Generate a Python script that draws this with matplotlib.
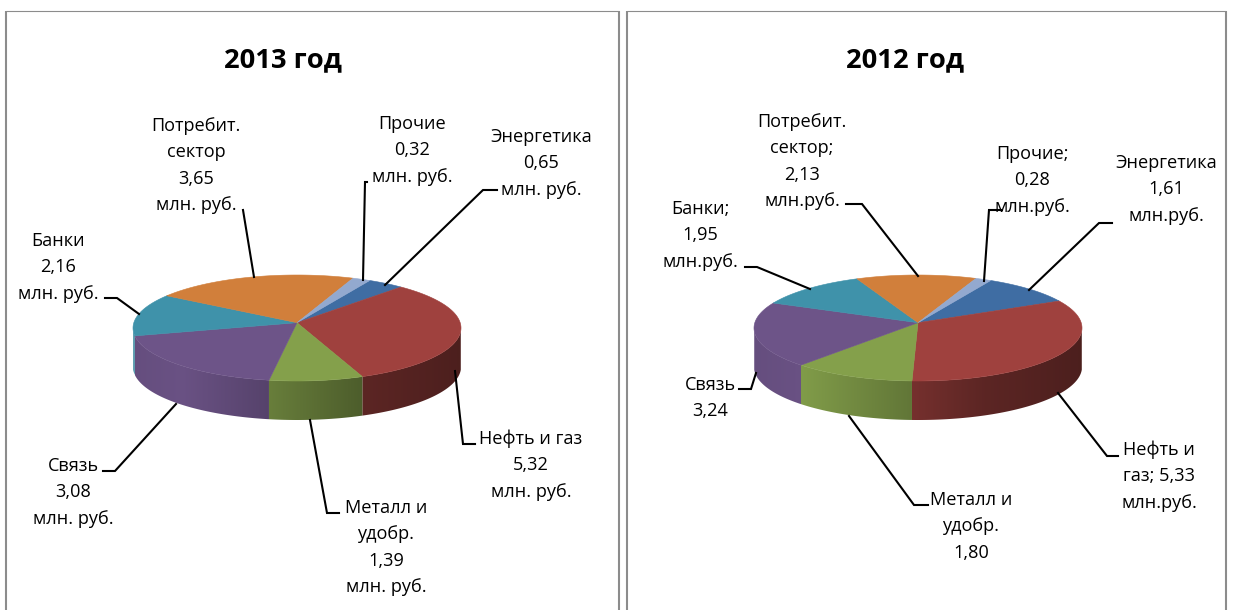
import numpy as np
import matplotlib
matplotlib.use("Agg")
import matplotlib.pyplot as plt
from matplotlib.patches import Polygon

FONT = ["Open Sans", "DejaVu Sans"]

# ---- data ----
sectors = ["Энергетика", "Нефть и газ", "Металл и удобр.", "Связь", "Банки", "Потребит. сектор", "Прочие"]
values_2013 = [0.65, 5.32, 1.39, 3.08, 2.16, 3.65, 0.32]
values_2012 = [1.61, 5.33, 1.80, 3.24, 1.95, 2.13, 0.28]
title_2013 = "2013 год"
title_2012 = "2012 год"
labels_2013 = ["Энергетика\n0,65\nмлн. руб.", "Нефть и газ\n5,32\nмлн. руб.", "Металл и\nудобр.\n1,39\nмлн. руб.",
               "Связь\n3,08\nмлн. руб.", "Банки\n2,16\nмлн. руб.", "Потребит.\nсектор\n3,65\nмлн. руб.", "Прочие\n0,32\nмлн. руб."]
labels_2012 = ["Энергетика\n1,61\nмлн.руб.", "Нефть и\nгаз; 5,33\nмлн.руб.", "Металл и\nудобр.\n1,80",
               "Связь\n3,24", "Банки;\n1,95\nмлн.руб.", "Потребит.\nсектор;\n2,13\nмлн.руб.", "Прочие;\n0,28\nмлн.руб."]
colors = ["#3f6da3", "#9f413e", "#84a04b", "#6d5488", "#3f92aa", "#d17f3b", "#93a9cf"]

# ---- layout (pixels) ----
FIG_W, FIG_H = 1235, 610
START = 29.0
PERSP = 0.10
RX, RY, DEPTH = 164, 53, 39
CY = 328
WALL_TOP = -0.05
label_pos_2013 = [(541, 137), (531, 439), (386, 508), (73, 466), (58, 241), (196, 126), (412, 124)]
label_pos_2012 = [(1166, 163), (1159, 450), (971, 500), (710, 385), (700, 209), (802, 122), (1032, 154)]
leaders_2013 = [
    [(497, 190), (483, 190), (385, 285)],
    [(455, 371), (463, 444), (475, 444)],
    [(310, 420), (327, 513), (339, 513)],
    [(176, 404), (115, 471), (103, 471)],
    [(105, 298), (117, 298), (139, 314)],
    [(243, 210), (254, 277)],
    [(367, 182), (365, 182), (363, 280)],
]
leaders_2012 = [
    [(1112, 223), (1099, 223), (1029, 290)],
    [(1058, 393), (1107, 456), (1118, 456)],
    [(849, 416), (914, 505), (928, 505)],
    [(739, 389), (751, 389), (756, 373)],
    [(745, 267), (757, 267), (810, 289)],
    [(846, 204), (862, 204), (918, 276)],
    [(1002, 210), (989, 210), (984, 281)],
]
shade_x = [-1.0, -0.7, -0.15, 0.4, 1.0]
shade_k = [0.93, 0.97, 0.78, 0.58, 0.48]


def project(theta_deg, cx):
    """Perspective view of the disc: angle clockwise from 12 o'clock to screen x, y."""
    t = np.radians(theta_deg)
    u, v = np.sin(t), np.cos(t)
    den = 1 + PERSP * v
    X = u * np.sqrt(1 - PERSP ** 2) / den
    Y = (v + PERSP) / den
    return cx + RX * X, CY - RY * Y, X, Y


def draw_pie(ax, values, cx):
    fr = np.array(values) / np.sum(values) * 360
    starts = START + np.concatenate([[0], np.cumsum(fr)[:-1]])
    apex = (cx, CY - RY * PERSP)
    for s, f, c in zip(starts, fr, colors):
        th = np.linspace(s, s + f, max(int(f * 2), 2) + 1)
        x, y, X, Y = project(th, cx)
        vis = Y <= WALL_TOP
        if vis.sum() < 2:
            continue
        xv, yv = x[vis], y[vis]
        base = np.array(matplotlib.colors.to_rgb(c))
        x0, x1 = xv.min(), xv.max()
        grid_x = np.linspace(x0, x1, 200)
        gx = (grid_x - cx) / RX
        k = np.interp(gx, shade_x, shade_k)
        img = (k[:, None] * base[None, :])[None, :, :]
        im = ax.imshow(img, extent=(x0, x1, yv.max() + DEPTH + 2, yv.min() - 2),
                       aspect="auto", interpolation="bilinear", zorder=2)
        poly = Polygon(list(zip(xv, yv)) + list(zip(xv[::-1], yv[::-1] + DEPTH)),
                       closed=True, transform=ax.transData, fc="none", ec="none")
        ax.add_patch(poly)
        im.set_clip_path(poly)
    for s, f, c in zip(starts, fr, colors):
        th = np.linspace(s, s + f, max(int(f * 2), 2) + 1)
        x, y, _, _ = project(th, cx)
        pts = [apex] + list(zip(x, y))
        ax.add_patch(Polygon(pts, closed=True, fc=c, ec=c, lw=0.4, zorder=3))


fig = plt.figure(figsize=(FIG_W / 100, FIG_H / 100), dpi=100, facecolor="white")
ax = fig.add_axes([0, 0, 1, 1])
ax.axis("off")

# panel frames
for x0, x1 in [(6, 619), (627, 1226)]:
    ax.plot([x0, x0], [11, FIG_H], color="#8c8c8c", lw=1.5, solid_capstyle="butt")
    ax.plot([x1, x1], [11, FIG_H], color="#8c8c8c", lw=1.5, solid_capstyle="butt")
    ax.plot([x0, x1], [11, 11], color="#8c8c8c", lw=0.8, solid_capstyle="butt")

draw_pie(ax, values_2013, 297)
draw_pie(ax, values_2012, 918)

for leaders in (leaders_2013, leaders_2012):
    for pts in leaders:
        xs, ys = zip(*pts)
        ax.plot(xs, ys, color="black", lw=1.5, zorder=4, solid_joinstyle="miter")

LSP = 26.3
for labels, poss in ((labels_2013, label_pos_2013), (labels_2012, label_pos_2012)):
    for lab, (x, y) in zip(labels, poss):
        for i, line in enumerate(lab.split("\n")):
            ax.text(x, y + i * LSP, line, ha="center", va="center", fontsize=13.1,
                    family=FONT, color="black", zorder=5)

ax.text(283, 60, title_2013, ha="center", va="center", fontsize=19.7, fontweight="bold", family=FONT)
ax.text(905, 60, title_2012, ha="center", va="center", fontsize=19.7, fontweight="bold", family=FONT)

ax.set_xlim(0, FIG_W)
ax.set_ylim(FIG_H, 0)
fig.savefig("out.png", dpi=100, facecolor="white")
